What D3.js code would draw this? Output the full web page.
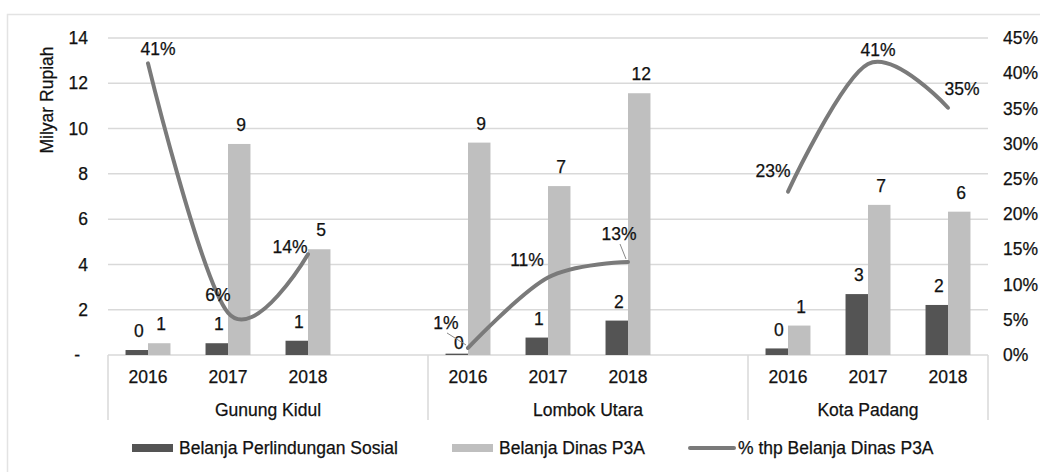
<!DOCTYPE html>
<meta charset="utf-8">
<style>
body { margin: 0; background: #fff; }
svg { font-family: "Liberation Sans", Arial, sans-serif; }
.axis text { font-size: 17.5px; fill: #111; stroke: #111; stroke-width: 0.25px; }
.axis path, .axis line { display: none; }
.grid line { stroke: #d9d9d9; stroke-width: 1.5px; }
.lbl { font-size: 17.5px; fill: #111; stroke: #111; stroke-width: 0.25px; }
</style>
<body>
<div id="chart"></div>
<script src="https://cdn.jsdelivr.net/npm/d3@7"></script>
<script>
var groups = ["Gunung Kidul", "Lombok Utara", "Kota Padang"];
var years = ["2016", "2017", "2018"];
var seriesNames = ["Belanja Perlindungan Sosial", "Belanja Dinas P3A", "% thp Belanja Dinas P3A"];
// milyar rupiah, per group then year
var sosial = [0.22, 0.52, 0.63, 0.06, 0.77, 1.52, 0.29, 2.69, 2.21];
var dinasP3A = [0.52, 9.32, 4.67, 9.38, 7.46, 11.56, 1.30, 6.63, 6.33];
var pctP3A = [0.414, 0.06, 0.143, 0.01, 0.11, 0.132, 0.232, 0.413, 0.351];
var leftTicks = [0, 2, 4, 6, 8, 10, 12, 14];
var rightTicks = [0, 0.05, 0.1, 0.15, 0.2, 0.25, 0.3, 0.35, 0.4, 0.45];

// hand placed label nudges (as in the original chart)
var pctLabelNudge = [[10, -14], [-10, -18], [-18, -7], [-22, -25], [-21, -18], [-9, -28], [-15, -21], [10, -14], [14, -19]];
var leaderIdx = [3, 5];
var sosialLabelDrop = { 3: 8 };

var width = 1040, height = 472,
    plotLeft = 108, plotRight = 988, plotTop = 38, base = 355;

var colDark = "#545454", colLight = "#bfbfbf", colLine = "#7a7a7a", colGrid = "#d9d9d9";

// slots: 3 years per group + an empty slot between groups
var slots = [];
groups.forEach(function(g, gi) {
  years.forEach(function(yr) { slots.push(g + "|" + yr); });
  if (gi < groups.length - 1) slots.push(g + "|gap");
});

var rows = [];
groups.forEach(function(g, gi) {
  years.forEach(function(yr, yi) {
    var i = gi * years.length + yi;
    rows.push({ slot: g + "|" + yr, group: g, year: yr, sosial: sosial[i], p3a: dinasP3A[i], pct: pctP3A[i], i: i });
  });
});

var x = d3.scaleBand().domain(slots).range([plotLeft, plotRight]).padding(0);
var xIn = d3.scaleBand().domain(["sosial", "p3a"]).range([0, x.bandwidth()]).paddingInner(0).paddingOuter(0.78);
var yL = d3.scaleLinear().domain([0, 14]).range([base, plotTop]);
var yR = d3.scaleLinear().domain([0, 0.45]).range([base, plotTop]);

var svg = d3.select("#chart").append("svg")
    .attr("width", width)
    .attr("height", height);

// outer frame
svg.append("rect")
    .attr("x", 7.5).attr("y", 14.5)
    .attr("width", width).attr("height", height)
    .attr("fill", "none").attr("stroke", "#e3e3e3").attr("stroke-width", 1.5);

svg.append("g")
    .attr("class", "grid")
  .selectAll("line")
    .data(leftTicks.slice(1))
  .enter().append("line")
    .attr("x1", plotLeft).attr("x2", plotRight)
    .attr("y1", function(d) { return yL(d); })
    .attr("y2", function(d) { return yL(d); });

svg.append("g")
    .attr("class", "axis")
    .attr("transform", "translate(" + plotLeft + ",0)")
    .call(d3.axisLeft(yL).tickValues(leftTicks).tickSize(0).tickPadding(20)
      .tickFormat(function(d) { return d === 0 ? "-" : d; }))
  .selectAll("text")
    .attr("dx", function(d) { return d === 0 ? "-8" : "0"; });

svg.append("g")
    .attr("class", "axis")
    .attr("transform", "translate(" + plotRight + ",0)")
    .call(d3.axisRight(yR).tickValues(rightTicks).tickSize(0).tickPadding(15).tickFormat(d3.format(".0%")));

svg.append("text")
    .attr("class", "lbl")
    .attr("transform", "translate(47,100) rotate(-90)")
    .attr("text-anchor", "middle")
    .attr("dy", "0.35em")
    .text("Milyar Rupiah");

// category axis: year labels, group labels, separators
var groupEdges = groups.map(function(g, gi) {
  var s = x(g + "|" + years[0]);
  var e = gi < groups.length - 1 ? x(g + "|gap") + x.bandwidth() : plotRight;
  return [s, e];
});

svg.append("line")
    .attr("x1", plotLeft).attr("x2", plotRight)
    .attr("y1", base).attr("y2", base)
    .attr("stroke", colGrid).attr("stroke-width", 1.5);

svg.selectAll(".sep")
    .data([plotLeft].concat(groupEdges.map(function(d) { return d[1]; })))
  .enter().append("line")
    .attr("class", "sep")
    .attr("x1", function(d) { return d; }).attr("x2", function(d) { return d; })
    .attr("y1", base).attr("y2", 420)
    .attr("stroke", colGrid).attr("stroke-width", 1.5);

svg.selectAll(".year")
    .data(rows)
  .enter().append("text")
    .attr("class", "lbl")
    .attr("x", function(d) { return x(d.slot) + x.bandwidth() / 2; })
    .attr("y", 377)
    .attr("dy", "0.35em")
    .attr("text-anchor", "middle")
    .text(function(d) { return d.year; });

svg.selectAll(".grp")
    .data(groups)
  .enter().append("text")
    .attr("class", "lbl")
    .attr("x", function(d, i) { return (groupEdges[i][0] + groupEdges[i][1]) / 2; })
    .attr("y", 410)
    .attr("dy", "0.35em")
    .attr("text-anchor", "middle")
    .text(function(d) { return d; });

// bars
var keys = [{ k: "sosial", c: colDark }, { k: "p3a", c: colLight }];
keys.forEach(function(s) {
  svg.append("g").selectAll("rect")
      .data(rows)
    .enter().append("rect")
      .attr("x", function(d) { return x(d.slot) + xIn(s.k); })
      .attr("y", function(d) { return yL(d[s.k]); })
      .attr("width", xIn.bandwidth())
      .attr("height", function(d) { return base - yL(d[s.k]); })
      .attr("fill", s.c);

  svg.append("g").selectAll("text")
      .data(rows)
    .enter().append("text")
      .attr("class", "lbl")
      .attr("x", function(d) { return x(d.slot) + xIn(s.k) + xIn.bandwidth() / 2 + 2; })
      .attr("y", function(d) {
        var drop = s.k === "sosial" && sosialLabelDrop[d.i] ? sosialLabelDrop[d.i] : 0;
        return yL(d[s.k]) - 19 + drop;
      })
      .attr("dy", "0.35em")
      .attr("text-anchor", "middle")
      .text(function(d) { return d3.format(".0f")(d[s.k]); });
});

// smoothed percent line, one piece per group
function px(d) { return x(d.slot) + x.bandwidth() / 2; }

var line = d3.line()
    .x(px)
    .y(function(d) { return yR(d.pct); })
    .curve(d3.curveCardinal.tension(0));

svg.append("g").selectAll("path")
    .data(groups)
  .enter().append("path")
    .attr("d", function(g) { return line(rows.filter(function(r) { return r.group === g; })); })
    .attr("fill", "none")
    .attr("stroke", colLine)
    .attr("stroke-width", 4)
    .attr("stroke-linecap", "round");

svg.append("g").selectAll("line")
    .data(rows.filter(function(d) { return leaderIdx.indexOf(d.i) >= 0; }))
  .enter().append("line")
    .attr("x1", function(d) { return px(d) + pctLabelNudge[d.i][0] + 1; })
    .attr("y1", function(d) { return yR(d.pct) + pctLabelNudge[d.i][1] + 10; })
    .attr("x2", function(d) { return px(d) - 2; })
    .attr("y2", function(d) { return yR(d.pct) - 3; })
    .attr("stroke", "#888").attr("stroke-width", 1);

svg.append("g").selectAll("text")
    .data(rows)
  .enter().append("text")
    .attr("class", "lbl")
    .attr("x", function(d) { return px(d) + pctLabelNudge[d.i][0]; })
    .attr("y", function(d) { return yR(d.pct) + pctLabelNudge[d.i][1]; })
    .attr("dy", "0.35em")
    .attr("text-anchor", "middle")
    .text(function(d) { return d3.format(".0%")(d.pct); });

// legend
var legX = [132, 452, 688];
var leg = svg.selectAll(".legend")
    .data(seriesNames)
  .enter().append("g")
    .attr("class", "legend")
    .attr("transform", function(d, i) { return "translate(" + legX[i] + ",448)"; });

leg.filter(function(d, i) { return i < 2; }).append("rect")
    .attr("y", -4).attr("width", 41).attr("height", 8)
    .attr("fill", function(d, i) { return i === 0 ? colDark : colLight; });

leg.filter(function(d, i) { return i === 2; }).append("line")
    .attr("x1", 2).attr("x2", 46)
    .attr("stroke", colLine).attr("stroke-width", 4).attr("stroke-linecap", "round");

leg.append("text")
    .attr("class", "lbl")
    .attr("x", function(d, i) { return i < 2 ? 47 : 50; })
    .attr("dy", "0.35em")
    .text(function(d) { return d; });
</script>
</body>
